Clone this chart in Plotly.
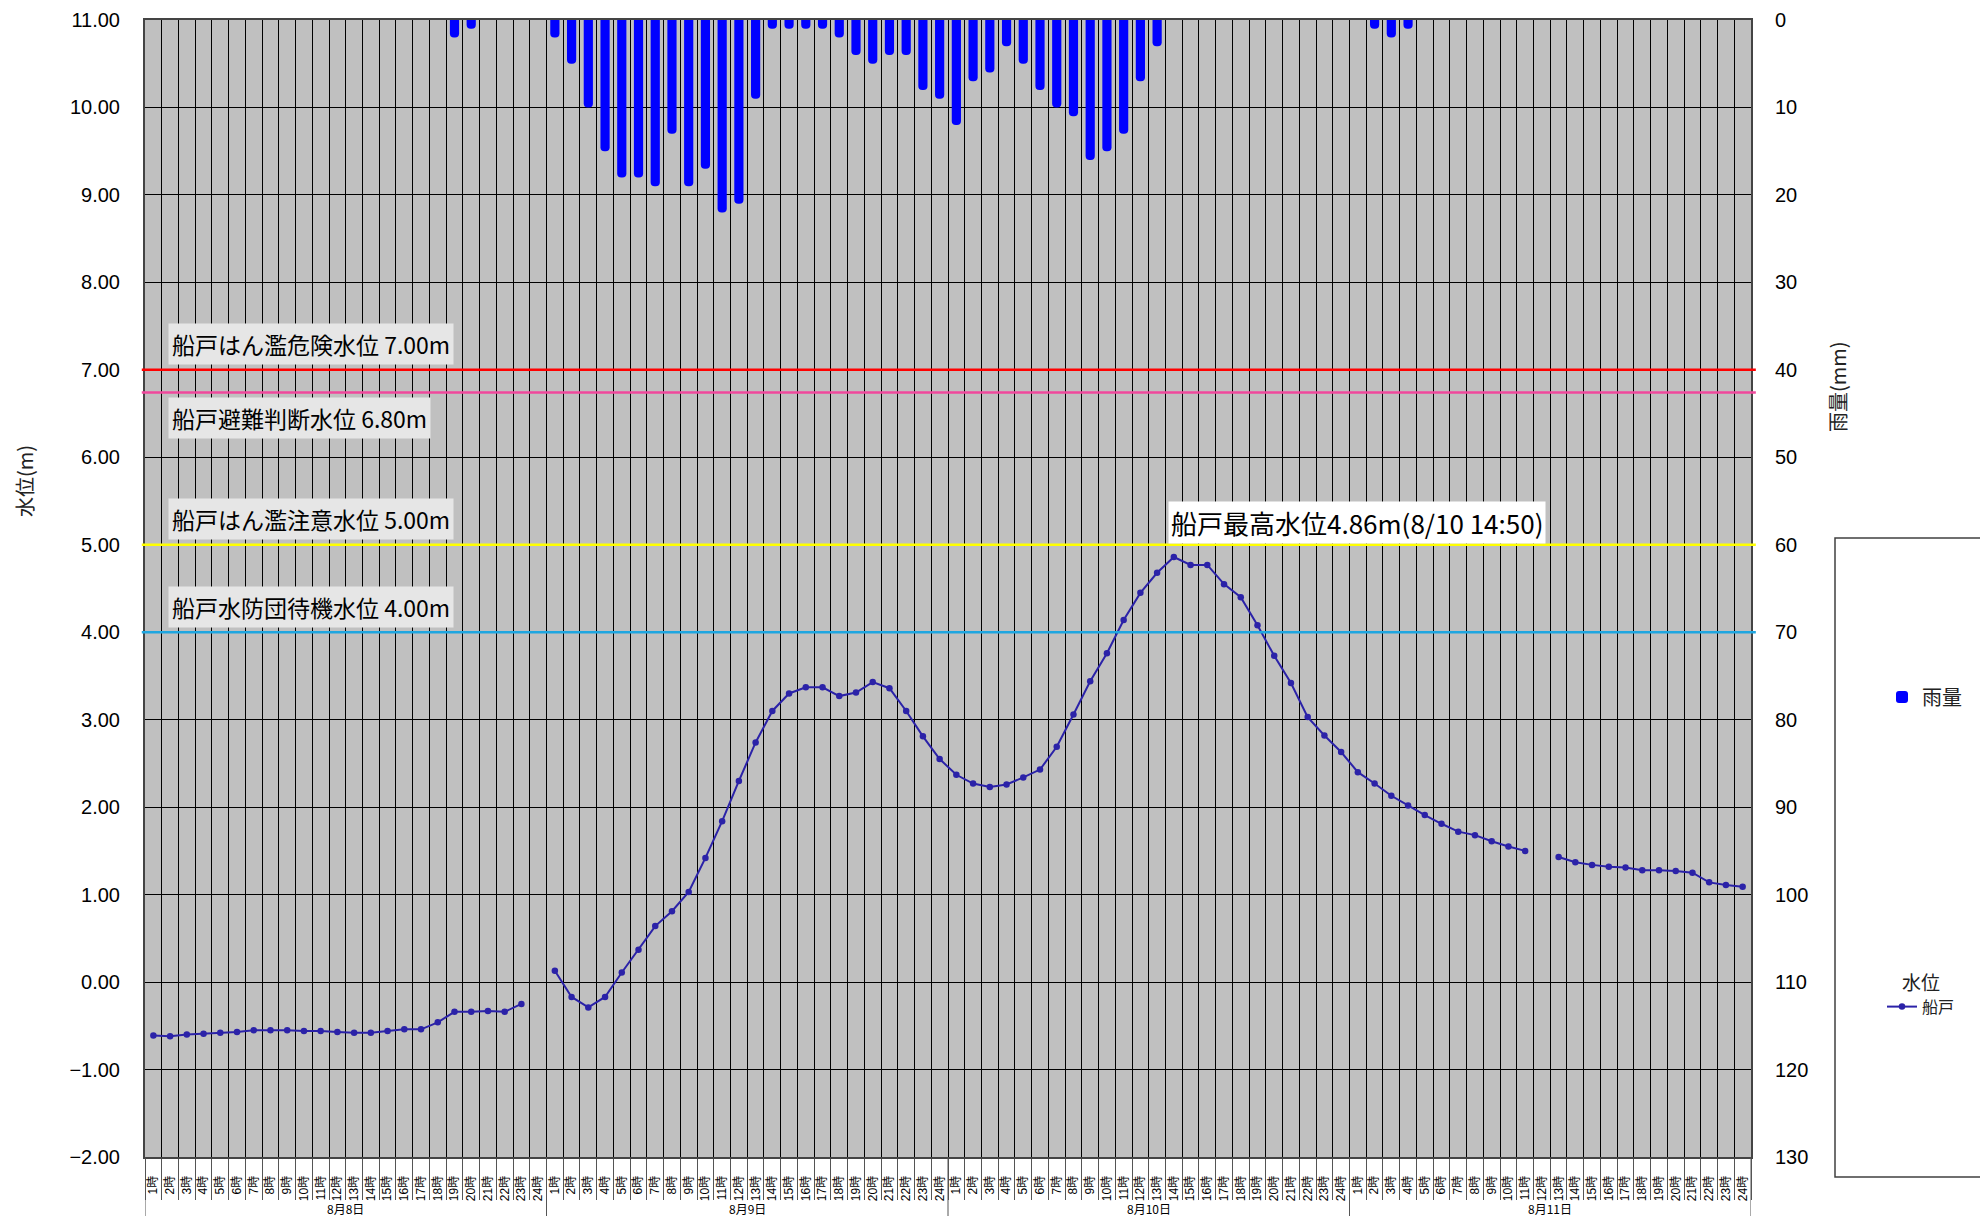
import plotly.graph_objects as go

# ---------------- data ----------------
DATES = ["8月8日", "8月9日", "8月10日", "8月11日"]
HOURS = ["1時", "2時", "3時", "4時", "5時", "6時", "7時", "8時", "9時", "10時", "11時", "12時",
         "13時", "14時", "15時", "16時", "17時", "18時", "19時", "20時", "21時", "22時", "23時", "24時"]

# hourly rainfall (mm)
rain_0808 = [0, 0, 0, 0, 0, 0, 0, 0, 0, 0, 0, 0, 0, 0, 0, 0, 0, 0, 2, 1, 0, 0, 0, 0]
rain_0809 = [2, 5, 10, 15, 18, 18, 19, 13, 19, 17, 22, 21, 9, 1, 1, 1, 1, 2, 4, 5, 4, 4, 8, 9]
rain_0810 = [12, 7, 6, 3, 5, 8, 10, 11, 16, 15, 13, 7, 3, 0, 0, 0, 0, 0, 0, 0, 0, 0, 0, 0]
rain_0811 = [0, 1, 2, 1, 0, 0, 0, 0, 0, 0, 0, 0, 0, 0, 0, 0, 0, 0, 0, 0, 0, 0, 0, 0]

# hourly water level at 船戸 (m); None = missing
level_0808 = [-0.61, -0.62, -0.60, -0.59, -0.58, -0.57, -0.55, -0.55, -0.55, -0.56, -0.56, -0.57,
              -0.58, -0.58, -0.56, -0.54, -0.54, -0.46, -0.34, -0.34, -0.33, -0.34, -0.25, None]
level_0809 = [0.13, -0.17, -0.29, -0.17, 0.11, 0.37, 0.64, 0.81, 1.03, 1.42, 1.84, 2.30,
              2.74, 3.10, 3.30, 3.37, 3.37, 3.27, 3.31, 3.43, 3.36, 3.10, 2.81, 2.55]
level_0810 = [2.37, 2.27, 2.23, 2.26, 2.34, 2.43, 2.69, 3.06, 3.44, 3.76, 4.14, 4.45,
              4.68, 4.86, 4.77, 4.77, 4.55, 4.40, 4.08, 3.73, 3.42, 3.03, 2.82, 2.63]
level_0811 = [2.40, 2.27, 2.13, 2.02, 1.91, 1.81, 1.72, 1.68, 1.61, 1.55, 1.50, None,
              1.43, 1.37, 1.34, 1.32, 1.31, 1.28, 1.28, 1.27, 1.25, 1.14, 1.11, 1.09]

# reference water levels
THRESH_LABELS = ["船戸はん濫危険水位 7.00m", "船戸避難判断水位 6.80m",
                 "船戸はん濫注意水位 5.00m", "船戸水防団待機水位 4.00m"]
THRESH_LEVELS = [7.00, 6.74, 5.00, 4.00]
THRESH_COLORS = ["#ff0000", "#f0489c", "#ffff00", "#1fa6e0"]
THRESH_LABEL_Y = [7.30, 6.45, 5.29, 4.29]

PEAK_TEXT = "船戸最高水位4.86m(8/10 14:50)"
PEAK_LABEL_Y = 5.25

# ---------------- build ----------------
n_h = len(HOURS)
x_hour = HOURS * len(DATES)
x_pos = list(range(len(x_hour)))
rain = rain_0808 + rain_0809 + rain_0810 + rain_0811
level = level_0808 + level_0809 + level_0810 + level_0811

CJK = "Noto Sans CJK JP"
LAT = "Liberation Sans, Arial, Noto Sans CJK JP"

fig = go.Figure()
fig.add_trace(go.Bar(
    x=x_pos, y=rain, yaxis="y2", name="雨量",
    marker=dict(color="#0000ff", line=dict(width=0), cornerradius=4),
    width=0.55, legend="legend",
))
fig.add_trace(go.Scatter(
    x=x_pos, y=level, name="船戸", mode="lines+markers",
    line=dict(color="#2b22a8", width=2), marker=dict(size=6.5, color="#2b22a8"),
    connectgaps=False, legend="legend2",
))

# The page body adds an 8px offset; the figure is sized to end at the window edge.
W, H = 1980, 1208
ML, MR, MT, MB = 137, 237, 12, 59
PW, PH = W - ML - MR, H - MT - MB


def px_x(xpix):  # window pixel -> paper x
    return (xpix - 8 - ML) / PW


def px_y(ypix):  # window pixel -> paper y
    return (H - MB + 8 - ypix) / PH


shapes = []
for lv, col in zip(THRESH_LEVELS, THRESH_COLORS):
    shapes.append(dict(type="line", xref="paper", yref="y", x0=-0.002, x1=1.003, y0=lv, y1=lv,
                       line=dict(color=col, width=2.5), layer="above"))
# day dividers under the hour labels
for i in range(len(DATES) + 1):
    xd = i * n_h - 0.5
    shapes.append(dict(type="line", xref="x", yref="paper", x0=xd, x1=xd, y0=0, y1=px_y(1230),
                       line=dict(color="#555", width=1)))
# legend frame
shapes.append(dict(type="rect", xref="paper", yref="paper", x0=px_x(1835), x1=px_x(2010),
                   y0=px_y(1177), y1=px_y(538),
                   line=dict(color="#404040", width=1.5), fillcolor="white", layer="below"))

annotations = []
for txt, ly in zip(THRESH_LABELS, THRESH_LABEL_Y):
    annotations.append(dict(text=txt, xref="paper", yref="y", x=px_x(168), y=ly, xanchor="left",
                            yanchor="middle", showarrow=False, bgcolor="#e6e6e6", borderpad=3,
                            font=dict(family=CJK, size=23, color="black")))
annotations.append(dict(text=PEAK_TEXT, xref="paper", yref="y", x=px_x(1168), y=PEAK_LABEL_Y,
                        xanchor="left", yanchor="middle", showarrow=False, bgcolor="white",
                        borderpad=2, font=dict(family=CJK, size=26, color="black")))
for i, d in enumerate(DATES):
    annotations.append(dict(text=d, xref="x", yref="paper", x=i * n_h + (n_h - 1) / 2,
                            y=px_y(1208), xanchor="center", yanchor="middle", showarrow=False,
                            font=dict(family=CJK, size=12, color="black")))
annotations.append(dict(text="水位(m)", xref="paper", yref="paper", x=px_x(24), y=px_y(481),
                        xanchor="center", yanchor="middle", textangle=-90, showarrow=False,
                        font=dict(family=CJK, size=20, color="#222")))
annotations.append(dict(text="雨量(mm)", xref="paper", yref="paper", x=px_x(1837), y=px_y(387),
                        xanchor="center", yanchor="middle", textangle=-90, showarrow=False,
                        font=dict(family=CJK, size=20, color="#222")))

fig.update_layout(
    width=W, height=H,
    margin=dict(l=ML, r=MR, t=MT, b=MB, autoexpand=False),
    paper_bgcolor="white", plot_bgcolor="#c0c0c0",
    font=dict(family=LAT, size=20, color="black"),
    showlegend=True,
    xaxis=dict(type="linear", range=[-0.5, len(x_hour) - 0.5], tickmode="array",
               tickvals=x_pos, ticktext=x_hour, tickangle=-90, ticks="",
               tickfont=dict(family=LAT, size=12, color="black"), ticklabelstandoff=12,
               showgrid=False, zeroline=False,
               minor=dict(tickmode="linear", tick0=-0.5, dtick=1, ticks="outside", ticklen=41,
                          tickcolor="#555", tickwidth=1, showgrid=True, gridcolor="black",
                          gridwidth=1),
               showline=True, linecolor="#444", linewidth=2, mirror=True, automargin=False),
    yaxis=dict(range=[-2, 11], dtick=1, tick0=0, tickformat=".2f", showgrid=True,
               gridcolor="black", gridwidth=1, showline=True, linecolor="#444", linewidth=2,
               mirror=True, ticks="outside", ticklen=19, tickcolor="rgba(0,0,0,0)",
               zeroline=False, automargin=False, tickfont=dict(size=20)),
    yaxis2=dict(overlaying="y", side="right", range=[130, 0], dtick=10, tick0=0,
                showgrid=False, zeroline=False, ticks="outside", ticklen=19,
                tickcolor="rgba(0,0,0,0)", automargin=False, tickfont=dict(size=20)),
    legend=dict(x=px_x(1882), y=px_y(697), xanchor="left", yanchor="middle",
                bgcolor="rgba(0,0,0,0)", borderwidth=0,
                font=dict(family=CJK, size=20, color="#222"), itemwidth=30),
    legend2=dict(x=px_x(1882), y=px_y(965), xanchor="left", yanchor="top",
                 bgcolor="rgba(0,0,0,0)", borderwidth=0,
                 font=dict(family=CJK, size=16, color="#222"), itemwidth=30,
                 title=dict(text="水位", side="top center",
                            font=dict(family=CJK, size=19, color="#222"))),
    shapes=shapes, annotations=annotations,
)

fig.write_html("out.html")
